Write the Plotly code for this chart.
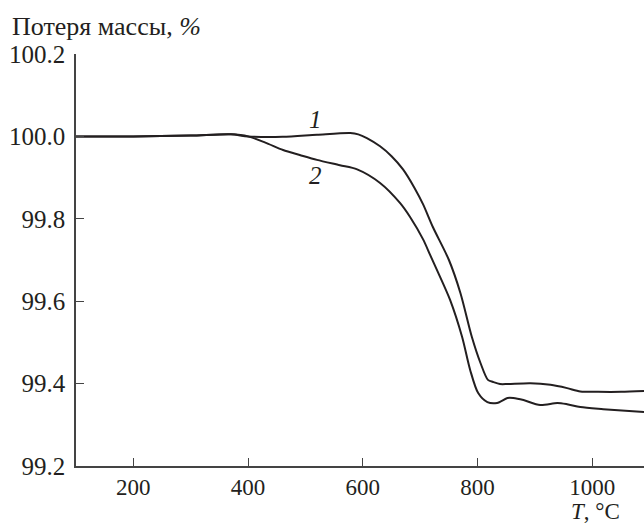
import plotly.graph_objects as go

# Curve 1
t1 = [100, 200, 300, 370, 400, 460, 520, 578, 592, 607, 630, 650, 670, 690, 705, 722, 750, 770, 790, 805, 818, 827, 839, 852, 892, 927, 956, 979, 1010, 1050, 1090]
m1 = [100.0, 100.0, 100.002, 100.005, 100.0, 99.999, 100.004, 100.008, 100.005, 99.996, 99.976, 99.952, 99.92, 99.875, 99.835, 99.78, 99.70, 99.62, 99.513, 99.45, 99.409, 99.404, 99.399, 99.399, 99.401, 99.397, 99.389, 99.381, 99.380, 99.380, 99.382]

# Curve 2
t2 = [100, 200, 300, 370, 400, 430, 461, 490, 520, 560, 590, 630, 665, 682, 705, 717, 731, 752, 773, 787, 801, 817, 834, 852, 862, 880, 909, 939, 956, 979, 1019, 1090]
m2 = [100.0, 100.0, 100.002, 100.005, 100.0, 99.985, 99.967, 99.955, 99.943, 99.930, 99.92, 99.887, 99.838, 99.805, 99.75, 99.713, 99.67, 99.603, 99.513, 99.433, 99.377, 99.355, 99.353, 99.365, 99.365, 99.36, 99.348, 99.353, 99.35, 99.343, 99.338, 99.331]

x_ticks = [200, 400, 600, 800, 1000]
y_ticks = [99.2, 99.4, 99.6, 99.8, 100.0, 100.2]
y_tick_labels = ["99.2", "99.4", "99.6", "99.8", "100.0", "100.2"]

ink = "#231f20"
font = "Liberation Serif"
fs = 25

fig = go.Figure()
for t, m in ((t1, m1), (t2, m2)):
    fig.add_trace(go.Scatter(x=t, y=m, mode="lines",
                             line=dict(color=ink, width=2, shape="spline", smoothing=0.8),
                             showlegend=False, hoverinfo="skip"))

fig.update_layout(
    width=644, height=525,
    margin=dict(l=76, r=0, t=54, b=59),
    paper_bgcolor="white", plot_bgcolor="white",
    font=dict(family=font, size=fs, color=ink),
    xaxis=dict(range=[100, 1090], tickvals=x_ticks, ticktext=[str(v) for v in x_ticks],
               showgrid=False, zeroline=False, showline=True, linecolor="#444", linewidth=1.5,
               ticks="inside", ticklen=8, tickwidth=1.2, tickcolor="#444",
               tickfont=dict(family=font, size=23, color=ink)),
    yaxis=dict(range=[99.2, 100.2], tickvals=y_ticks, ticktext=y_tick_labels,
               showgrid=False, zeroline=False, showline=True, linecolor="#444", linewidth=1.5,
               ticks="inside", ticklen=8, tickwidth=1.2, tickcolor="#444",
               ticklabelstandoff=4,
               tickfont=dict(family=font, size=fs, color=ink)),
    annotations=[
        dict(text="Потеря массы, <i>%</i>", xref="paper", yref="paper", x=-76/568, y=1 + 27/412,
             xanchor="left", yanchor="middle", xshift=10, showarrow=False,
             font=dict(family=font, size=26, color=ink)),
        dict(text="<i>T</i>, °C", xref="x", yref="paper", x=1005, y=-59/412,
             xanchor="center", yanchor="bottom", showarrow=False, borderpad=0,
             font=dict(family=font, size=23, color=ink)),
        dict(text="<i>1</i>", xref="x", yref="y", x=517, y=100.04, showarrow=False,
             font=dict(family=font, size=fs, color=ink)),
        dict(text="<i>2</i>", xref="x", yref="y", x=517, y=99.904, showarrow=False,
             font=dict(family=font, size=fs, color=ink)),
    ],
)

fig.write_html("out.html")
